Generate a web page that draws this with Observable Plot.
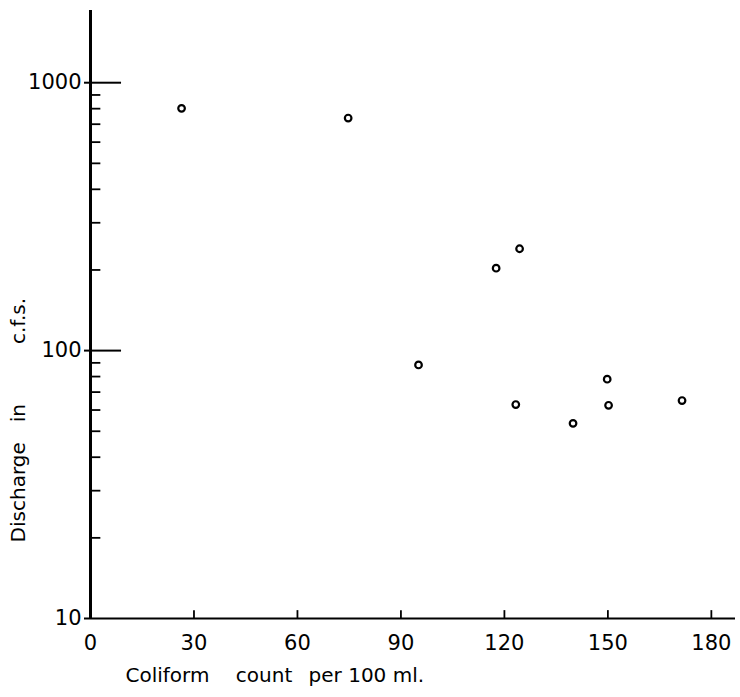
<!DOCTYPE html>
<html>
<head>
<meta charset="utf-8">
<script src="https://cdn.jsdelivr.net/npm/d3@7"></script>
<script src="https://cdn.jsdelivr.net/npm/@observablehq/plot@0.6"></script>
<style>
  html, body { margin: 0; padding: 0; background: #fff; }
  #chart svg { display: block; }
</style>
</head>
<body>
<div id="chart"></div>
<script>
// Coliform count per 100 ml (x) vs discharge in c.f.s. (y, log)
const coliform  = [26.4, 74.7, 95.1, 117.6, 124.4, 123.3, 139.9, 149.8, 150.2, 171.5];
const discharge = [802, 738, 88.4, 203, 240, 62.9, 53.5, 78.2, 62.5, 65.1];

const xTicks = [0, 30, 60, 90, 120, 150, 180];
const yMajor = [10, 100, 1000];
const yMinor = [20, 30, 40, 50, 60, 70, 80, 90, 200, 300, 400, 500, 600, 700, 800, 900];

const xTitle = "Coliform\u2003 count\u2002 per 100 ml.";
const yTitle = "Discharge\u2003in\u2003\u2003\u2003c.f.s.";

const points = coliform.map((c, i) => ({c, q: discharge[i]}));
const FONT = "DejaVu Sans, sans-serif";

const chart = Plot.plot({
  width: 740,
  height: 697,
  marginLeft: 90,
  marginRight: 5,
  marginTop: 10,
  marginBottom: 79,
  style: {fontFamily: FONT, color: "#000", background: "#fff"},
  x: {domain: [0, 187]},
  y: {type: "log", domain: [10, 1860]},
  marks: [
    // axis lines
    Plot.ruleX([0], {y1: 10, y2: 1860, stroke: "#000", strokeWidth: 3}),
    Plot.ruleY([10], {x1: 0, x2: 187, stroke: "#000", strokeWidth: 2}),
    // x ticks (pointing up)
    Plot.ruleX(xTicks.filter(d => d > 0), {y1: 10, y2: 10.7, stroke: "#000", strokeWidth: 1.8}),
    // y major ticks extending right
    Plot.ruleY(yMajor.filter(d => d > 10), {x1: 0, x2: 9, stroke: "#000", strokeWidth: 2}),
    // y minor ticks
    Plot.ruleY(yMinor, {x1: 0, x2: 3, stroke: "#000", strokeWidth: 1.8}),
    // axes labels
    Plot.axisX({ticks: xTicks, tickSize: 0, tickPadding: 17, fontSize: 21, label: null, tickFormat: d => String(d)}),
    Plot.axisY({ticks: yMajor, tickSize: 6, tickPadding: 3, fontSize: 21, label: null, tickFormat: d => String(d), strokeWidth: 2}),
    // titles
    Plot.text([xTitle], {x: 0, y: 10, dx: 35, dy: 57, text: d => d, textAnchor: "start", fontSize: 20, fill: "#000"}),
    Plot.text([yTitle], {x: 0, y: 55, dx: -72, text: d => d, rotate: -90, fontSize: 20, fill: "#000"}),
    // data
    Plot.dot(points, {x: "c", y: "q", r: 3.3, stroke: "#000", strokeWidth: 2.2, fill: "#fff"})
  ]
});

document.getElementById("chart").appendChild(chart);
</script>
</body>
</html>
